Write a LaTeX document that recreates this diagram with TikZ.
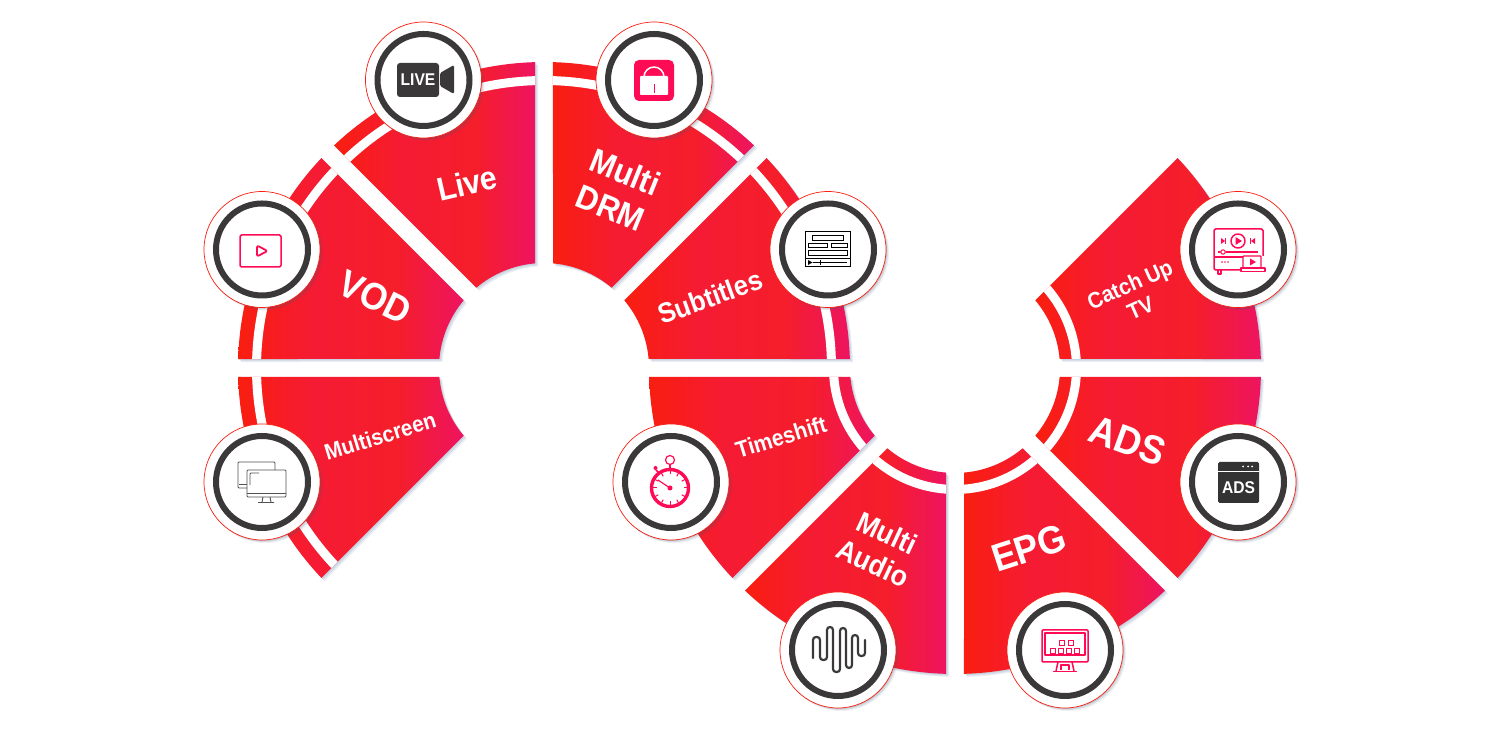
\documentclass[tikz,border=0pt]{standalone}
\usepackage{fontspec}
\setmainfont{Liberation Sans}[FakeStretch=0.92]
\definecolor{ca}{HTML}{F91E10}
\definecolor{cb}{HTML}{F51B34}
\definecolor{cc}{HTML}{F51E2A}
\definecolor{cd}{HTML}{EE1460}
\definecolor{ringdark}{HTML}{3A3838}
\definecolor{iconpink}{HTML}{FF0A54}
\definecolor{icondark}{HTML}{333333}
\definecolor{shadowblue}{HTML}{5F7FA8}
\pgfdeclarehorizontalshading{redpink}{100bp}{color(0bp)=(ca); color(25bp)=(ca); color(42bp)=(cb); color(60bp)=(cc); color(75bp)=(cd); color(100bp)=(cd)}
\tikzset{
  wedgefill/.style={shading=redpink},
  wedgeshadow/.style={fill=shadowblue,fill opacity=.13},
  wedgestripe/.style={fill=white},
  disc/.style={circle,draw=ca,line width=.7pt,fill=white,minimum size=116pt,inner sep=0pt},
  innerring/.style={circle,draw=ringdark,line width=6pt,minimum size=92pt,inner sep=0pt},
  lab/.style={text=white,align=center,inner sep=0pt},
  img/.style={x=1pt,y=-1pt,yshift=730pt},
  pinkline/.style={draw=iconpink,line width=1.5pt,line join=round},
  blackline/.style={draw=black,line width=1pt},
  greyline/.style={draw=icondark!85!white,line width=.9pt,rounded corners=1pt}
}
\newcommand\wedgeband[5]{%
  \pgfmathsetmacro\wOa{#2+asin(9/#5)}\pgfmathsetmacro\wOb{#3-asin(9/#5)}%
  \pgfmathsetmacro\wIa{#3-asin(9/#4)}\pgfmathsetmacro\wIb{#2+asin(9/#4)}%
  \path[#1] (\wOa:#5) arc[start angle=\wOa,end angle=\wOb,radius=#5] -- (\wIa:#4) arc[start angle=\wIa,end angle=\wIb,radius=#4] -- cycle;}
\newcommand\fullwedge[4]{% a1 a2 stripe-in stripe-out
  \foreach \s in {1,2,3}{\begin{scope}[shift={(\s,-\s)}]\wedgeband{wedgeshadow}{#1}{#2}{105}{306}\end{scope}}
  \wedgeband{wedgefill,shade}{#1}{#2}{105}{306}
  \wedgeband{wedgestripe}{#1}{#2}{#3}{#4}}
\newcommand\badge[3]{% name x y (image coords)
  \foreach \s/\o in {1/.16,2/.12,3/.09}{\fill[shadowblue!70!black,fill opacity=\o] (#2+\s,#3+\s) circle[radius=58];}
  \node[disc] (#1) at (#2,#3) {};
  \node[innerring] (#1-ring) at (#2,#3) {};}
\begin{document}
\begin{tikzpicture}[x=1pt,y=1pt]
\useasboundingbox (0,0) rectangle (1500,730);
\fill[white] (0,0) rectangle (1500,730);
\begin{scope}[shift={(544,362)}]
  \fullwedge{180}{225}{283}{292}
  \fullwedge{135}{180}{283}{292}
  \fullwedge{90}{135}{283}{292}
  \fullwedge{45}{90}{283}{292}
  \fullwedge{0}{45}{283}{292}
\end{scope}
\begin{scope}[shift={(955,362)}]
  \fullwedge{180}{225}{117}{126}
  \fullwedge{225}{270}{117}{126}
  \fullwedge{270}{315}{117}{126}
  \fullwedge{315}{360}{117}{126}
  \fullwedge{0}{45}{117}{126}
\end{scope}
\begin{scope}[img]
  \badge{live}{423.5}{80}
  \badge{vod}{262}{249.5}
  \badge{screen}{262}{482}
  \badge{drm}{654}{80}
  \badge{subs}{828}{249.5}
  \badge{shift}{671}{482}
  \badge{audio}{838}{650}
  \badge{epg}{1065}{650}
  \badge{ads}{1238}{482}
  \badge{catch}{1238}{249.5}

  % labels
  \node[lab,rotate=13,font=\bfseries\fontsize{33}{36}\selectfont] (t-live) at (467,183) {Live};
  \node[lab,rotate=-26,font=\bfseries\fontsize{38}{41}\selectfont] (t-vod) at (375,297) {VOD};
  \node[lab,rotate=17,font=\bfseries\fontsize{22.5}{25}\selectfont] (t-screen) at (380,436) {Multiscreen};
  \node[lab,rotate=-22,font=\bfseries\fontsize{33.5}{38.5}\selectfont] (t-drm) at (618,190) {Multi\\DRM};
  \node[lab,rotate=20,font=\bfseries\fontsize{28}{31}\selectfont] (t-subs) at (710,297) {Subtitles};
  \node[lab,rotate=17,font=\bfseries\fontsize{23}{26}\selectfont] (t-shift) at (781,437) {Timeshift};
  \node[lab,rotate=-25,font=\bfseries\fontsize{29}{33.5}\selectfont] (t-audio) at (880,548) {Multi\\Audio};
  \node[lab,rotate=18,font=\bfseries\fontsize{39}{42}\selectfont] (t-epg) at (1029,548) {EPG};
  \node[lab,rotate=-20,font=\bfseries\fontsize{40}{43}\selectfont] (t-ads) at (1128,441) {ADS};
  \node[lab,rotate=24,font=\bfseries\fontsize{22.5}{26}\selectfont] (t-catch) at (1135,296) {Catch Up\\TV};

  % LIVE icon
  \fill[ringdark,rounded corners=3pt] (397,63) rectangle (439,97);
  \fill[ringdark,rounded corners=1.5pt] (440,73) -- (454,65) -- (454,94) -- (440,86) -- cycle;
  \node[text=white,inner sep=0pt,font=\bfseries\fontsize{17}{17}\selectfont] (i-live) at (418,80) {LIVE};

  % VOD icon
  \draw[pinkline,rounded corners=1.5pt] (240,235) rectangle (281,267);
  \draw[pinkline,line width=1.8pt,rounded corners=2pt] (257,245.5) -- (267.5,251) -- (257,256.5) -- cycle;

  % lock icon
  \fill[iconpink,rounded corners=5pt] (634,60) rectangle (674,101);
  \draw[white,line width=1.5pt] (644,77) arc[start angle=180,end angle=360,radius=10];
  \fill[white,rounded corners=.8pt] (640,76) rectangle (668,95);
  \draw[iconpink,line width=.9pt] (654,84) -- (654,93);

  % subtitles icon
  \draw[blackline] (805,232) rectangle (850,267);
  \draw[blackline] (812,236) rectangle (843,241);
  \draw[blackline] (808,244) rectangle (827,248);
  \draw[blackline] (831,244) rectangle (847,248);
  \draw[blackline] (808,251) rectangle (847,256);
  \draw[blackline] (805,258.5) -- (850,258.5);
  \fill[black] (808,260) -- (812.5,262.5) -- (808,265) -- cycle;
  \draw[blackline,line width=.8pt] (813,262.5) -- (847,262.5);
  \draw[blackline] (820,260) -- (820,265);

  % multiscreen icon
  \draw[greyline] (247,488) -- (238,488) -- (238,462) -- (275,462) -- (275,470);
  \draw[greyline] (239,484) -- (247,484);
  \draw[greyline] (247,470) rectangle (286,497);
  \draw[greyline] (247,493) -- (286,493);
  \draw[greyline] (259,473) -- (250,473) -- (250,485);
  \draw[greyline] (263,497) -- (262,502) (270,497) -- (271,502) (258,502.5) -- (274,502.5);

  % stopwatch icon
  \draw[iconpink,line width=3.4pt] (670,488) circle[radius=18.5];
  \foreach \a in {0,30,...,330}{\draw[iconpink,line width=1pt] (670,488) ++(\a:17) -- ++(\a:-3.5);}
  \draw[iconpink,line width=1.2pt] (670,460) circle[radius=4.5];
  \draw[iconpink,line width=2pt] (670,464.5) -- (670,469);
  \draw[iconpink,line width=1.5pt] (659,473) -- (656,470);
  \fill[iconpink] (655.5,468) circle[radius=2];
  \draw[iconpink,line width=1.2pt] (658,480) -- (670,488);
  \fill[iconpink] (670,488) circle[radius=2.5];

  % audio wave icon
  \draw[ringdark,line width=2.2pt,rounded corners=3pt,line cap=round] (813,658) -- (813,637) -- (820,637) -- (820,660) -- (827,660) -- (827,627) -- (833,627) -- (833,672) -- (840,672) -- (840,628) -- (846,628) -- (846,668) -- (852,668) -- (852,635) -- (858,635) -- (858,656) -- (865,656) -- (865,640);

  % EPG icon
  \draw[pinkline,rounded corners=1pt] (1042,630) rectangle (1088,662);
  \draw[pinkline,line width=1.2pt] (1045,633) -- (1085,633) -- (1085,655) -- (1045,655) -- cycle;
  \foreach \x/\y in {1062/643,1071/643,1053/651,1061/651,1069/651,1077/651}{\draw[iconpink,line width=1.2pt] (\x-2.2,\y-2.2) rectangle (\x+2.2,\y+2.2);}
  \draw[pinkline] (1058,662) -- (1056,671) (1072,662) -- (1074,671);
  \draw[pinkline,line width=1.2pt] (1061,670) -- (1061,665) -- (1069,665) -- (1069,670);
  \draw[pinkline,line width=1.8pt] (1053,671.5) -- (1077,671.5);

  % ADS icon
  \fill[icondark,rounded corners=1.5pt] (1218,462) rectangle (1259,503);
  \draw[white,line width=.8pt] (1218,471) -- (1259,471);
  \foreach \x in {1243,1248,1252}{\fill[white] (\x,466.5) circle[radius=1];}
  \node[text=white,inner sep=0pt,font=\bfseries\fontsize{17}{17}\selectfont] (i-ads) at (1238.5,488) {ADS};

  % catch up icon
  \draw[pinkline,rounded corners=1.5pt] (1243,270) -- (1214,270) -- (1214,229) -- (1263,229) -- (1263,256);
  \draw[pinkline,line width=1.2pt] (1214,257) -- (1243,257);
  \draw[pinkline] (1238,241) circle[radius=7];
  \fill[iconpink] (1235.5,237) -- (1242,241) -- (1235.5,245) -- cycle;
  \fill[iconpink] (1221,238) -- (1225,241) -- (1221,244) -- cycle; \draw[pinkline,line width=1pt] (1225.5,238) -- (1225.5,244);
  \fill[iconpink] (1255,238) -- (1251,241) -- (1255,244) -- cycle; \draw[pinkline,line width=1pt] (1250.5,238) -- (1250.5,244);
  \draw[pinkline,line width=1.2pt] (1218,252) -- (1258,252);
  \fill[white] (1223,252) circle[radius=2.6]; \draw[iconpink,line width=1pt] (1223,252) circle[radius=2.2];
  \foreach \x in {1222,1225,1228}{\fill[iconpink] (\x,262) circle[radius=.9];}
  \draw[pinkline,line width=1.2pt] (1218,270) -- (1218,274) -- (1221,274) -- (1221,270);
  \draw[pinkline,fill=white,line width=1.3pt,rounded corners=.8pt] (1243,268) -- (1243,256) -- (1261,256) -- (1261,268);
  \fill[iconpink] (1250,258.5) -- (1256,262) -- (1250,265.5) -- cycle;
  \draw[pinkline,fill=white,line width=1.2pt] (1241,268) rectangle (1265,271.5);
\end{scope}
\end{tikzpicture}
\end{document}
